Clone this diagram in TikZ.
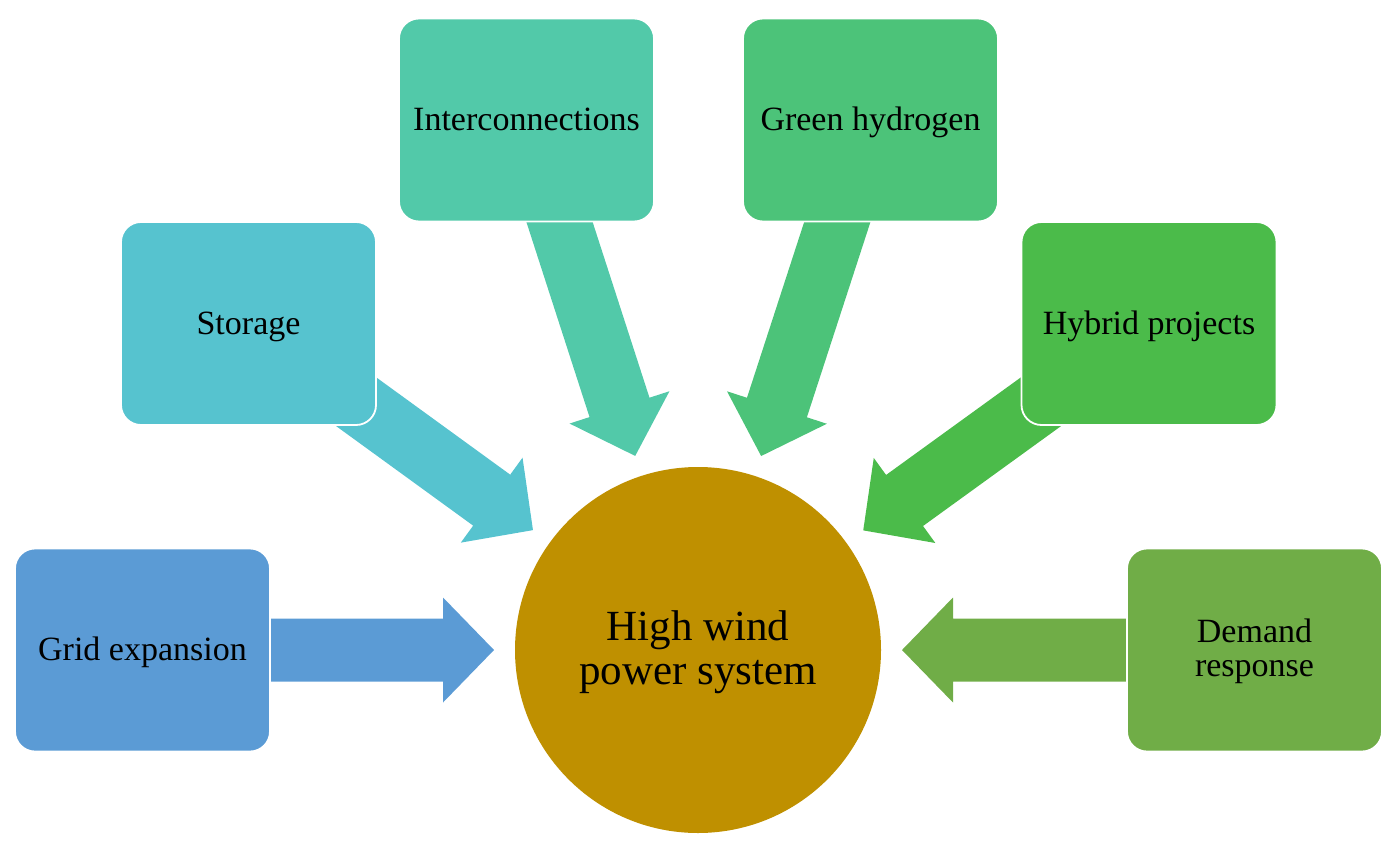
\documentclass[tikz,border=0pt]{standalone}
\usepackage{fontspec}
\setmainfont{Liberation Serif}
\usetikzlibrary{calc,backgrounds}
\definecolor{cgrid}{HTML}{5B9BD5}
\definecolor{cstor}{HTML}{56C3CF}
\definecolor{cint}{HTML}{52C9A9}
\definecolor{cgreen}{HTML}{4CC379}
\definecolor{chyb}{HTML}{4BBB4A}
\definecolor{cdem}{HTML}{70AD47}
\definecolor{chub}{HTML}{BF9000}
% #1 name, #2 start node, #3 tip coordinate, #4 colour
\newcommand\fatarrow[4]{%
  \coordinate (#1-b) at ($(#3)!51pt!(#2)$);
  \fill[#4] ($(#2)!31.5pt!90:(#3)$) -- ($(#1-b)!31.5pt!90:(#3)$)
    -- ($(#1-b)!52.5pt!90:(#3)$) -- (#3)
    -- ($(#1-b)!52.5pt!-90:(#3)$) -- ($(#1-b)!31.5pt!-90:(#3)$)
    -- ($(#2)!31.5pt!-90:(#3)$) -- cycle;}
\begin{document}
\begin{tikzpicture}[x=1pt,y=-1pt,
  box/.style={rounded corners=20pt, draw=white, line width=1.8pt,
    minimum width=255pt, minimum height=203pt, inner sep=0pt,
    font=\fontsize{34}{34}\selectfont, align=center, text=black,
    text height=28pt, text depth=7pt}]
\useasboundingbox (0,0) rectangle (1396,848);

\node[circle, fill=chub, minimum size=366pt, inner sep=0pt,
  font=\fontsize{43}{44}\selectfont, align=center,
  text height=74pt, text depth=6pt] (hub) at (698,650)
  {High wind\\power system};

\node[box, fill=cgrid] (grid) at (142.5,650) {Grid expansion};
\node[box, fill=cstor] (stor) at (248.5,323.5) {Storage};
\node[box, fill=cint] (inter) at (526.5,120) {Interconnections};
\node[box, fill=cgreen] (h2) at (870.5,120) {Green hydrogen};
\node[box, fill=chyb] (hyb) at (1149,323.5) {Hybrid projects};
\node[box, fill=cdem, text height=59pt] (dem) at (1254.5,650) {Demand\\response};

\coordinate (gridT) at ($(hub.center)!204pt!(grid.center)$);
\coordinate (storT) at ($(hub.center)!204pt!(stor.center)$);
\coordinate (interT) at ($(hub.center)!204pt!(inter.center)$);
\coordinate (h2T) at ($(hub.center)!204pt!(h2.center)$);
\coordinate (hybT) at ($(hub.center)!204pt!(hyb.center)$);
\coordinate (demT) at ($(hub.center)!204pt!(dem.center)$);

\begin{pgfonlayer}{background}
\fatarrow{ag}{grid.center}{gridT}{cgrid}
\fatarrow{as}{stor.center}{storT}{cstor}
\fatarrow{ai}{inter.center}{interT}{cint}
\fatarrow{ah}{h2.center}{h2T}{cgreen}
\fatarrow{ay}{hyb.center}{hybT}{chyb}
\fatarrow{ad}{dem.center}{demT}{cdem}
\end{pgfonlayer}
\end{tikzpicture}
\end{document}
